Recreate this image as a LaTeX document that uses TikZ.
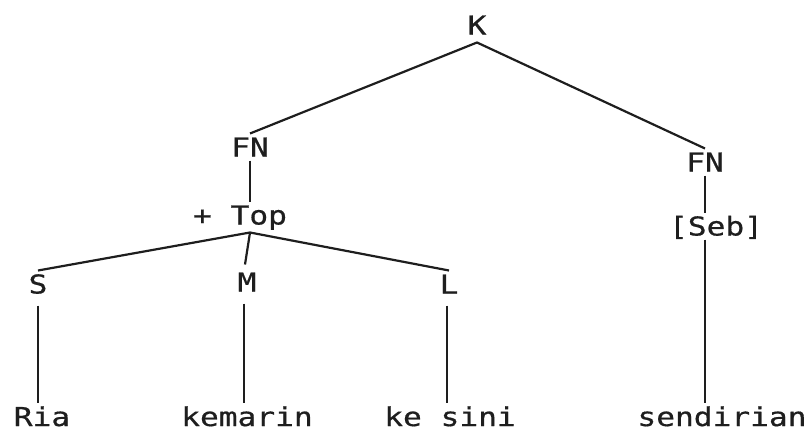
\documentclass[tikz,border=0pt]{standalone}
\usepackage{fontspec}
\usepackage{tikz}
\newfontfamily\dotfont[FakeStretch=1.2,FakeBold=0.6]{DejaVu Sans Mono}
\definecolor{ttInk}{HTML}{1E1E1E}

\begin{document}
\begin{tikzpicture}[
  x=1pt, y=-1pt, line width=2.2pt, draw=ttInk,
  lbl/.style ={font=\dotfont\fontsize{26pt}{30pt}\selectfont, text=ttInk,
               inner sep=0pt, outer sep=4pt, text height=19pt, text depth=0pt},
  leaf/.style={lbl, anchor=base}]
  \useasboundingbox (0,0) rectangle (810,434);
  \node[lbl, outer sep=8pt] (k) at (477,25) {K};
  \node[lbl] (fnL) at (250,147) {FN};   \node[lbl] (fnR) at (705,162) {FN};
  \node[lbl] (top) at (240,215) {+ Top}; \node[lbl] (seb) at (716,226) {[Seb]};
  \node[lbl] (s) at (38,284) {S};
  \node[lbl, outer sep=8pt] (m) at (247,282) {M};
  \node[lbl] (l) at (449,284) {L};
  \node[leaf] (ria) at (42,426) {Ria};      \node[leaf] (kemarin) at (247,426) {kemarin};
  \node[leaf] (kesini) at (450,426) {ke sini}; \node[leaf] (sendirian) at (722,426) {sendirian};
  \coordinate (tj) at ([yshift=-4pt]top.south -| fnL);
  \draw (fnL.north) -- (k.south) -- (fnR.north);
  \draw (fnL.south) -- (top.north -| fnL);
  \draw (s.north) -- (tj) -- (l.north);
  \draw (tj) -- ([xshift=-2pt]m.north);
  \draw (fnR.south) -- (seb.north -| fnR);
  \draw ([yshift=-8pt]s.south) -- (ria.north -| s);
  \draw ([yshift=-4pt,xshift=-3pt]m.south) -- ([xshift=-3pt]kemarin.north -| m);
  \draw ([yshift=-8pt,xshift=-2pt]l.south) -- ([xshift=-2pt]kesini.north -| l);
  \draw (seb.south -| fnR) -- (sendirian.north -| fnR);
\end{tikzpicture}
\end{document}
